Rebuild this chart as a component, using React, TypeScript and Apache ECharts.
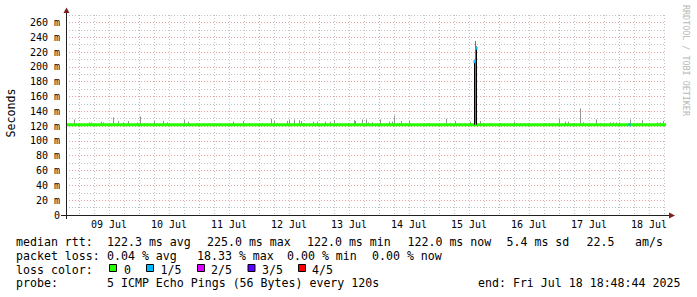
import React, { useEffect, useRef } from 'react';
import * as echarts from 'echarts';

// x values are hours relative to 09 Jul 00:00
const START_H = -5.1878; // Jul 8 18:48:44
const END_H = 234.8122; // Jul 18 18:48:44

const dayLabels = ['09 Jul', '10 Jul', '11 Jul', '12 Jul', '13 Jul', '14 Jul', '15 Jul', '16 Jul', '17 Jul', '18 Jul'];

const medianHours = [START_H, 40, 80, 120, 158.0, 159.2, 200, END_H];
const medianValues = [122, 122, 122, 122, 122, 122, 122, 122];

const smokeHours = [
  -1.8, 4.2, 5.0, 9.0, 9.8, 13.5, 15.8, 17.8, 19.7, 23.3, 24.3, 26.2, 30.2, 33.8, 35.3, 41.9, 43.5, 47.4, 49.8,
  51.8, 53.4, 56.6, 61.8, 65.8, 68.2, 73.4, 77.0, 78.2, 79.4, 83.4, 84.2, 86.2, 88.2, 89.0, 89.8, 93.8, 95.4,
  98.6, 100.6, 102.2, 103.4, 107.8, 110.2, 110.6, 113.4, 115.0, 115.8, 117.4, 120.6, 124.2, 125.4, 126.2, 128.2,
  129.0, 130.6, 132.2, 139.4, 140.2, 147.0, 148.6, 150.6, 152.6, 154.6, 156.6, 158.4, 158.6, 158.7, 160.6, 161.8,
  164.6, 168.6, 174.2, 176.6, 178.2, 179.8, 186.6, 188.2, 189.8, 191.4, 192.2, 194.6, 195.8, 197.8, 200.6, 201.8,
  207.0, 208.6, 212.6, 213.8, 215.0, 216.2, 220.6, 222.2, 223.4, 224.6, 225.4, 231.4, 232.6, 233.8,
];
const smokeTops = [
  129, 125, 125, 126, 125, 132, 127, 125, 127, 125, 133, 124, 127, 127, 125, 129, 126, 124, 124,
  124, 124, 124, 126, 127, 124, 124, 130, 127, 124, 127, 129, 129, 128, 127, 124, 126, 126,
  126, 126, 128, 124, 124, 128, 127, 129, 129, 125, 125, 129, 126, 126, 134, 124,
  127, 124, 127, 124, 124, 130, 124, 127, 124, 124, 126, 215, 235, 228, 127, 124,
  124, 124, 126, 124, 124, 124, 124, 124, 124, 124, 130, 126, 126, 124, 144, 125,
  129, 124, 125, 125, 125, 125, 129, 124, 124, 124, 128, 125, 125, 127,
];

const spikeHours = [158.2, 158.9];
const spikeTops = [207, 225];

const lossMarkHours = [158.2, 158.9, 219.9];
const lossMarkValues = [207, 225, 122];

const SMOKE_BASE = 122;

const yAxisTitle = 'Seconds';
const watermark = 'RRDTOOL / TOBI OETIKER';

const lossLabels = ['0', '1/5', '2/5', '3/5', '4/5'];
const lossColors = ['#26ff00', '#00b8ff', '#dd00ff', '#5e00ff', '#ff0000'];

const rttLine = ['median rtt:', '122.3 ms avg', '225.0 ms max', '122.0 ms min', '122.0 ms now', '5.4 ms sd', '22.5', 'am/s'];
const lossLine = ['packet loss:', '0.04 % avg', '18.33 % max', '0.00 % min', '0.00 % now'];
const probeLine = ['probe:', '5 ICMP Echo Pings (56 Bytes) every 120s', 'end: Fri Jul 18 18:48:44 2025'];

const MONO = '"DejaVu Sans Mono", monospace';

export default function App() {
  const ref = useRef<HTMLDivElement>(null);
  useEffect(() => {
    if (!ref.current) return;
    const chart = echarts.init(ref.current, null, { renderer: 'svg' });

    const majorHours = dayLabels.map((_, i) => i * 24);
    const labelHours = dayLabels.map((_, i) => i * 24 + 12);
    const minorHours: number[] = [];
    for (let i = 0; i < dayLabels.length; i++) {
      [6, 12, 18].forEach((k) => {
        const v = i * 24 + k;
        if (v < END_H) minorHours.push(v);
      });
    }

    const font = '11.6px ' + MONO;
    const txt = (x: number, y: number, s: string, extra: any = {}) => ({
      type: 'text',
      x,
      y,
      z: 100,
      style: { text: s, fill: '#000', font, verticalAlign: 'middle', ...extra },
    });

    const rttX = [16, 107, 207, 307, 407.5, 506.5, 586.5, 635];
    const lossX = [16, 107, 197, 287, 372];
    const probeX = [16, 107, 478];
    const boxX = [109, 146, 197, 247.5, 298];
    const boxTextX = [124, 160.5, 211, 262, 312];

    const graphic: any[] = [];
    rttLine.forEach((s, i) => graphic.push(txt(rttX[i], 241.5, s)));
    lossLine.forEach((s, i) => graphic.push(txt(lossX[i], 255.5, s)));
    graphic.push(txt(16, 269.5, 'loss color:'));
    lossLabels.forEach((s, i) => {
      graphic.push({
        type: 'rect',
        z: 100,
        shape: { x: boxX[i] + 0.5, y: 264.5, width: 7, height: 7 },
        style: { fill: lossColors[i], stroke: '#000', lineWidth: 1 },
      });
      graphic.push(txt(boxTextX[i], 269.5, s));
    });
    probeLine.forEach((s, i) => graphic.push(txt(probeX[i], 283, s)));

    // y-axis title
    graphic.push({
      type: 'text',
      x: 11,
      y: 113,
      rotation: Math.PI / 2,
      z: 100,
      style: { text: yAxisTitle, fill: '#000', font, verticalAlign: 'middle', align: 'center' },
    });

    // watermark
    graphic.push({
      type: 'text',
      x: 686,
      y: 5,
      rotation: -Math.PI / 2,
      z: 100,
      style: { text: watermark, fill: '#b8b8b8', font: '8.4px ' + MONO, verticalAlign: 'middle', align: 'left' },
    });

    // axes + arrows
    graphic.push({ type: 'line', z: 90, shape: { x1: 61, y1: 215.5, x2: 670, y2: 215.5 }, style: { stroke: '#1f1f1f', lineWidth: 1 } });
    graphic.push({ type: 'line', z: 90, shape: { x1: 66.5, y1: 219, x2: 66.5, y2: 12 }, style: { stroke: '#1f1f1f', lineWidth: 1 } });
    graphic.push({ type: 'polygon', z: 91, shape: { points: [[63.5, 13], [69.5, 13], [66.5, 7.5]] }, style: { fill: '#801f1f' } });
    graphic.push({ type: 'polygon', z: 91, shape: { points: [[669, 212.5], [669, 218.5], [675, 215.5]] }, style: { fill: '#801f1f' } });

    const redGrid = 'rgba(222,80,80,0.55)';
    const grayGrid = 'rgba(143,143,143,0.55)';

    chart.setOption({
      animation: false,
      backgroundColor: '#ffffff',
      textStyle: { fontFamily: MONO },
      grid: { left: 66, right: 31, top: 15, bottom: 82, outerBoundsMode: 'none' },
      xAxis: [
        {
          type: 'value',
          min: START_H,
          max: END_H,
          axisLine: { show: false },
          axisTick: { show: false, customValues: majorHours },
          axisLabel: {
            customValues: labelHours,
            formatter: (v: number) => dayLabels[Math.round((v - 12) / 24)] || '',
            fontFamily: MONO,
            fontSize: 10,
            color: '#000',
            margin: 4,
          },
          splitLine: { show: true, lineStyle: { color: redGrid, type: [1, 2] } },
        },
        {
          type: 'value',
          min: START_H,
          max: END_H,
          position: 'bottom',
          axisLine: { show: false },
          axisTick: { show: false, customValues: minorHours },
          axisLabel: { show: false },
          splitLine: { show: true, lineStyle: { color: grayGrid, type: [1, 2] } },
        },
      ],
      yAxis: {
        type: 'value',
        min: 0,
        max: 270,
        interval: 10,
        axisLine: { show: false },
        axisTick: { show: false },
        axisLabel: {
          formatter: (v: number) => (v % 20 ? '' : v === 0 ? '0' : v + ' m'),
          fontFamily: MONO,
          fontSize: 10,
          color: '#000',
          margin: 6,
        },
        splitLine: { show: true, lineStyle: { color: [redGrid, grayGrid], type: [1, 2] } },
      },
      graphic,
      series: [
        {
          type: 'custom',
          name: 'smoke',
          xAxisIndex: 0,
          encode: { x: 0, y: 1 },
          data: smokeHours.map((h, i) => [h, smokeTops[i]]),
          renderItem: (_p: any, api: any) => {
            const h = api.value(0);
            const top = api.value(1);
            const a = api.coord([h, SMOKE_BASE]);
            const b = api.coord([h, top]);
            return {
              type: 'line',
              shape: { x1: Math.round(a[0]) + 0.5, y1: a[1], x2: Math.round(b[0]) + 0.5, y2: b[1] },
              style: { stroke: top > 180 ? '#707070' : '#959595', lineWidth: 1 },
            };
          },
          z: 2,
        },
        {
          type: 'line',
          name: 'median',
          xAxisIndex: 0,
          data: medianHours.map((h, i) => [h, medianValues[i]]),
          showSymbol: false,
          lineStyle: { color: '#26ff00', width: 3 },
          z: 3,
        },
        {
          type: 'custom',
          name: 'spike',
          xAxisIndex: 0,
          encode: { x: 0, y: 1 },
          data: spikeHours.map((h, i) => [h, spikeTops[i]]),
          renderItem: (_p: any, api: any) => {
            const h = api.value(0);
            const a = api.coord([h, SMOKE_BASE]);
            const b = api.coord([h, api.value(1)]);
            return {
              type: 'line',
              shape: { x1: Math.round(a[0]) + 0.5, y1: a[1], x2: Math.round(b[0]) + 0.5, y2: b[1] },
              style: { stroke: '#000', lineWidth: 1 },
            };
          },
          z: 4,
        },
        {
          type: 'custom',
          name: 'loss',
          xAxisIndex: 0,
          encode: { x: 0, y: 1 },
          data: lossMarkHours.map((h, i) => [h, lossMarkValues[i]]),
          renderItem: (_p: any, api: any) => {
            const c = api.coord([api.value(0), api.value(1)]);
            return {
              type: 'rect',
              shape: { x: Math.round(c[0]) - 0.5, y: c[1] - 1.5, width: 2, height: 3 },
              style: { fill: '#00b8ff' },
            };
          },
          z: 5,
        },
      ],
    });
    return () => chart.dispose();
  }, []);
  return <div ref={ref} style={{ position: 'absolute', left: 0, top: 0, width: 697, height: 297, background: '#fff' }} />;
}
